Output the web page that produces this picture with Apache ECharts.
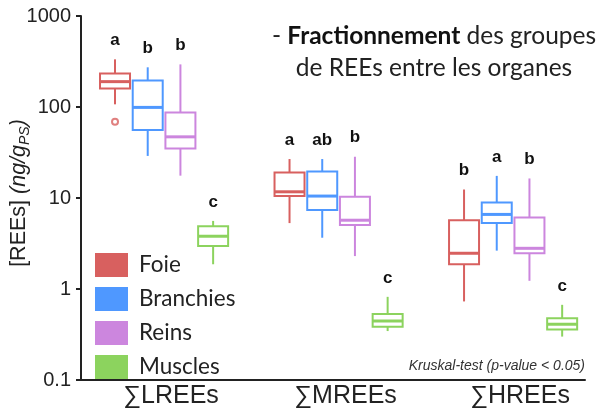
<!DOCTYPE html>
<html><head><meta charset="utf-8">
<script src="https://cdn.jsdelivr.net/npm/echarts@6/dist/echarts.min.js"></script>
<style>html,body{margin:0;padding:0;background:#fff}#c{width:601px;height:412px}</style>
</head><body><div id="c"></div>
<script>
// ---- data ----
const categories = ['∑LREEs', '∑MREEs', '∑HREEs'];
const organs = ['Foie', 'Branchies', 'Reins', 'Muscles'];
// each entry: [min, Q1, median, Q3, max] for LREEs, MREEs, HREEs
const foie      = [[107, 160, 190, 234, 334], [5.3, 10.5, 11.7, 19.1, 26.8], [0.73, 1.87, 2.47, 5.7, 12.4]];
const branchies = [[29, 56, 99, 195, 273], [3.66, 7.4, 10.5, 19.5, 26.8], [2.64, 5.3, 6.6, 8.9, 17.5]];
const reins     = [[17.6, 35, 47, 87, 294], [2.3, 5.05, 5.7, 10.3, 28.4], [1.23, 2.47, 2.8, 6.1, 16.4]];
const muscles   = [[1.87, 2.97, 3.8, 4.9, 5.6], [0.345, 0.385, 0.445, 0.53, 0.82], [0.30, 0.36, 0.41, 0.476, 0.67]];
const lettersFoie = ['a', 'a', 'b'];
const lettersBranchies = ['b', 'ab', 'a'];
const lettersReins = ['b', 'b', 'b'];
const lettersMuscles = ['c', 'c', 'c'];
const outliersFoie = [[0, 69]]; // [category index, value]
const yTickValues = [0.1, 1, 10, 100, 1000];
const yTitle = '{n|[REEs]} {i|(ng/g}{s|PS}{i|)}';
const titleLine1 = '- {b|Fractionnement} des groupes';
const titleLine2 = 'de REEs entre les organes';
const noteText = 'Kruskal-test (p-value < 0.05)';

// ---- style / layout ----
const colors = ['#d8605f', '#4f98ff', '#cc86de', '#8cd35e'];
const boxStats = [foie, branchies, reins, muscles];
const letters = [lettersFoie, lettersBranchies, lettersReins, lettersMuscles];
const slot = 0.1874;
const labelShift = 0.04;
const halfBox = 15;

function xPos(cat, organ) { return cat + 1 + (organ - 1.5) * slot; }

function makeRender(oi) {
  return function (params, api) {
    const x = api.value(0);
    const p = [1, 2, 3, 4, 5].map(d => api.coord([x, api.value(d)]));
    const cx = p[0][0];
    const yMin = p[0][1], yQ1 = p[1][1], yMed = p[2][1], yQ3 = p[3][1], yMax = p[4][1];
    const c = colors[oi];
    const ls = { stroke: c, lineWidth: 2, fill: null };
    return {
      type: 'group',
      children: [
        { type: 'line', shape: { x1: cx, y1: yMax, x2: cx, y2: yQ3 }, style: ls },
        { type: 'line', shape: { x1: cx, y1: yQ1, x2: cx, y2: yMin }, style: ls },
        { type: 'rect', shape: { x: cx - halfBox, y: yQ3, width: halfBox * 2, height: yQ1 - yQ3 }, style: { fill: '#fff', stroke: c, lineWidth: 2 } },
        { type: 'line', shape: { x1: cx - halfBox, y1: yMed, x2: cx + halfBox, y2: yMed }, style: { stroke: c, lineWidth: 3 } },
        { type: 'text', x: cx, y: yMax - 19, style: { text: letters[oi][params.dataIndex], align: 'center', verticalAlign: 'middle', fontFamily: 'Liberation Sans', fontWeight: 'bold', fontSize: 17, fill: '#111' } }
      ]
    };
  };
}

const series = organs.map((name, oi) => ({
  name: name,
  type: 'custom',
  renderItem: makeRender(oi),
  itemStyle: { color: colors[oi] },
  encode: { x: 0, y: [1, 2, 3, 4, 5] },
  data: boxStats[oi].map((s, ci) => [xPos(ci, oi)].concat(s)),
  z: 3
}));
series.push({
  type: 'scatter',
  symbol: 'emptyCircle',
  symbolSize: 6,
  itemStyle: { color: colors[0], borderColor: colors[0], borderWidth: 1.5 },
  data: outliersFoie.map(o => [xPos(o[0], 0), o[1]]),
  z: 4
});

const chart = echarts.init(document.getElementById('c'), null, { renderer: 'canvas' });
chart.setOption({
  animation: false,
  backgroundColor: '#fff',
  grid: { left: 81, right: 16, top: 16, bottom: 32, containLabel: false, outerBoundsMode: 'none' },
  xAxis: {
    type: 'value', min: 0.524, max: 3.412,
    axisLine: { show: true, onZero: false, lineStyle: { color: '#222', width: 2 } },
    axisTick: { show: false },
    splitLine: { show: false },
    axisLabel: {
      customValues: categories.map((c, i) => i + 1 + labelShift),
      formatter: v => categories[Math.round(v - labelShift) - 1] || '',
      fontFamily: 'Liberation Sans', fontSize: 25, color: '#222', margin: 4
    }
  },
  yAxis: {
    type: 'log', logBase: 10, min: 0.1, max: 1000,
    axisLine: { show: true, lineStyle: { color: '#222', width: 2 } },
    axisTick: { show: true, length: 5, lineStyle: { color: '#222', width: 2 } },
    minorTick: { show: false },
    splitLine: { show: false },
    axisLabel: {
      fontFamily: 'Liberation Sans', fontSize: 20, color: '#222', margin: 10,
      formatter: v => {
        const t = yTickValues.find(t => Math.abs(Math.log10(t) - Math.log10(v)) < 1e-6);
        return t === undefined ? '' : String(t);
      }
    }
  },
  legend: {
    data: organs, orient: 'vertical', left: 90, top: 248,
    icon: 'rect', itemWidth: 33, itemHeight: 24, itemGap: 10,
    itemStyle: { borderWidth: 0 },
    textStyle: { fontFamily: 'Lato', fontSize: 22.5, color: '#222', padding: [0, 0, 0, 6] }
  },
  graphic: [
    {
      type: 'text', x: 19, y: 193, rotation: Math.PI / 2, silent: true,
      style: {
        text: yTitle, align: 'center', verticalAlign: 'middle',
        fontFamily: 'Liberation Sans', fontSize: 21.5, fill: '#222',
        rich: {
          n: { fontFamily: 'Liberation Sans', fontSize: 21.5, fill: '#222', lineHeight: 26 },
          i: { fontFamily: 'Liberation Sans', fontSize: 21.5, fontStyle: 'italic', fill: '#222', lineHeight: 26 },
          s: { fontFamily: 'Liberation Sans', fontSize: 14, fontStyle: 'italic', fill: '#222', lineHeight: 15, verticalAlign: 'bottom' }
        }
      }
    },
    {
      type: 'text', x: 434, y: 20, silent: true,
      style: {
        text: titleLine1 + '\n' + titleLine2,
        align: 'center', verticalAlign: 'top',
        fontFamily: 'Lato', fontSize: 24.5, lineHeight: 32, fill: '#222',
        rich: { b: { fontFamily: 'Lato', fontSize: 24.5, fontWeight: 'bold', lineHeight: 32, fill: '#111' } }
      }
    },
    {
      type: 'text', x: 585, y: 366, silent: true,
      style: { text: noteText, align: 'right', verticalAlign: 'middle', fontFamily: 'Liberation Sans', fontStyle: 'italic', fontSize: 14, fill: '#333' }
    }
  ],
  series: series
});
</script></body></html>
